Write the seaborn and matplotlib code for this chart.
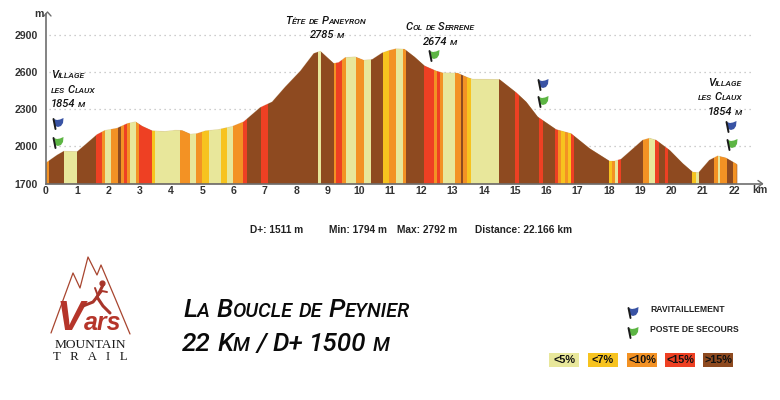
import matplotlib
matplotlib.use('Agg')
import matplotlib.pyplot as plt
import seaborn as sns
from matplotlib.patches import Rectangle, Polygon

# elevation profile
km = [0, 0.35, 0.57, 1.0, 1.3, 1.63, 1.88, 2.27, 2.6, 2.86, 3.07, 3.4, 3.8, 4.14, 4.35, 4.62, 4.83,
      5.1, 5.52, 5.95, 6.32, 6.85, 7.23, 7.65, 8.13, 8.56, 8.77, 8.99, 9.2, 9.36, 9.57, 9.89, 10.16,
      10.43, 10.75, 10.98, 11.19, 11.46, 11.78, 12.1, 12.47, 12.68, 13.16, 13.48, 13.64, 14.5, 15.03,
      15.35, 15.72, 16.31, 16.79, 17.38, 18.02, 18.18, 18.39, 19.08, 19.3, 19.51, 19.94, 20.36, 20.68,
      20.87, 21.21, 21.48, 21.74, 22.09]
elev = [1869, 1931, 1963, 1960, 2025, 2097, 2130, 2148, 2186, 2200, 2165, 2127, 2122, 2132, 2130, 2100, 2105,
        2127, 2138, 2162, 2200, 2315, 2360, 2481, 2608, 2750, 2769, 2718, 2670, 2678, 2718, 2723, 2696,
        2702, 2755, 2775, 2788, 2785, 2723, 2651, 2610, 2594, 2592, 2557, 2543, 2541, 2436,
        2361, 2240, 2138, 2105, 1985, 1883, 1883, 1899, 2052, 2068, 2052, 1971, 1864, 1794,
        1791, 1890, 1925, 1909, 1858]

# gradient bands: end of each band in km and its class
band_end = [0.08, 0.57, 1.0, 1.6, 1.8, 1.88, 2.09, 2.3, 2.39, 2.48, 2.6, 2.7, 2.88, 2.99, 3.39, 3.5, 4.3, 4.6,
            4.8, 5.0, 5.2, 5.6, 5.8, 5.99, 6.3, 6.42, 6.86, 7.1, 8.69, 8.8, 9.2, 9.29, 9.47, 9.6, 9.9, 10.18,
            10.4, 10.77, 10.98, 11.19, 11.41, 11.5, 12.1, 12.4, 12.5, 12.6, 12.7, 13.08, 13.27, 13.35, 13.46,
            13.6, 14.5, 15.0, 15.13, 15.75, 15.9, 16.28, 16.38, 16.47, 16.6, 16.68, 16.79, 16.9, 18.0, 18.1,
            18.2, 18.3, 18.4, 19.08, 19.27, 19.47, 19.6, 19.78, 19.9, 20.66, 20.79, 20.87, 21.37, 21.48, 21.57,
            21.77, 21.96, 22.09]
band_class = ['o', 'b', 'p', 'b', 'r', 'o', 'p', 'o', 'b', 'o', 'r', 'o', 'p', 'o', 'r', 'y', 'p', 'o',
              'p', 'o', 'y', 'p', 'y', 'p', 'o', 'r', 'b', 'r', 'b', 'p', 'b', 'o', 'r', 'o', 'p', 'o',
              'p', 'b', 'y', 'o', 'p', 'o', 'b', 'r', 'o', 'r', 'o', 'p', 'o', 'b', 'o',
              'y', 'p', 'b', 'r', 'b', 'r', 'b', 'r', 'o', 'y', 'o', 'y', 'r', 'b', 'y',
              'o', 'p', 'r', 'b', 'o', 'p', 'r', 'b', 'r', 'b', 'y', 'p', 'b', 'o', 'p',
              'o', 'b', 'o']
class_color = {'p': '#E8E79B', 'y': '#F7C31F', 'o': '#F39224', 'r': '#EE4023', 'b': '#8E4A20'}

y_ticks = [1700, 2000, 2300, 2600, 2900]
x_ticks = list(range(0, 23))

legend_labels = ['<5%', '<7%', '<10%', '<15%', '>15%']
legend_classes = ['p', 'y', 'o', 'r', 'b']
legend_left = [549, 588, 627, 665, 703]

# flags: left edge, top edge in image pixels
blue_flags = [(52, 118), (537, 79), (725, 121), (627, 307)]
green_flags = [(52, 137), (428, 50), (537, 96), (726, 139), (627, 327)]

sns.set_theme(style='white')
plt.rcParams['font.family'] = ['Liberation Sans', 'DejaVu Sans']

W, H = 780, 400
fig = plt.figure(figsize=(W / 100, H / 100), dpi=100)

# chart area, placed so the axes land on the same pixels as the reference
x0, x1, y0, y1 = 46, 762, 183.7, 14
ax = fig.add_axes([x0 / W, 1 - y0 / H, (x1 - x0) / W, (y0 - y1) / H])
ax.set_xlim(0, (x1 - x0) / 31.27)
ax.set_ylim(1700, 1700 + (y0 - y1) / 37.23 * 300)

for t in y_ticks[1:]:
    ax.plot([0.1, 22.6], [t, t], color='#bdbdbd', lw=0.9, ls=(0, (1, 3)), zorder=1)

area = ax.fill_between(km, elev, 1700, color=class_color['b'], lw=0, zorder=2)
outline = area.get_paths()[0]
start = 0
for end, c in zip(band_end, band_class):
    span = ax.axvspan(start, end, color=class_color[c], lw=0, zorder=3)
    span.set_clip_path(outline, ax.transData)
    start = end
sns.lineplot(x=km, y=elev, ax=ax, color='#c9a878', lw=0.4, alpha=0.3, zorder=4, errorbar=None, sort=False)

ax.set_xticks(x_ticks)
ax.set_yticks(y_ticks)
ax.tick_params(length=0, pad=2, labelsize=7.6, labelcolor='#333333')
for lab in ax.get_xticklabels() + ax.get_yticklabels():
    lab.set_fontweight('bold')
ax.tick_params(axis='y', pad=6)
ax.grid(False)
for s in ['top', 'right']:
    ax.spines[s].set_visible(False)
for s in ['left', 'bottom']:
    ax.spines[s].set_color('#6e6e6e')
    ax.spines[s].set_linewidth(1.2)
    ax.spines[s].set_zorder(5)

# page layer in image pixels for the labels, flags and logo
page = fig.add_axes([0, 0, 1, 1], zorder=10)
page.set_xlim(0, W)
page.set_ylim(H, 0)
page.axis('off')
page.patch.set_alpha(0)


def small_caps(text, x, y, size, ha='left', color='#111111', family='Roboto', weight='medium'):
    # capitals at full size, lower case drawn as smaller capitals, word by word
    rend = fig.canvas.get_renderer()
    gap = size * 1.39 * 0.24
    items, total = [], 0
    for word in text.split(' '):
        runs = []
        for ch in word:
            low = ch.islower()
            if runs and runs[-1][1] == low:
                runs[-1][0] += ch
            else:
                runs.append([ch, low])
        for s, low in runs:
            t = page.text(x, y, s.upper(), fontsize=size * 0.76 if low else size, style='italic',
                          family=family, color=color, va='baseline', fontweight=weight)
            w = t.get_window_extent(rend).width
            items.append((t, w))
            total += w
        items.append((None, gap))
        total += gap
    total -= gap
    cur = x - total / 2 if ha == 'center' else (x - total if ha == 'right' else x)
    for t, w in items:
        if t is not None:
            t.set_x(cur)
        cur += w


def flag(left, top, color):
    page.plot([left + 1.5, left + 3.5], [top + 1, top + 11], color='#1c1c1c', lw=1.4, zorder=3)
    pts = [(left + 1.5, top + 1), (left + 5, top + 2), (left + 8, top + 1.5), (left + 11.5, top),
           (left + 11, top + 5), (left + 9, top + 8), (left + 6, top + 9), (left + 3, top + 8)]
    page.add_patch(Polygon(pts, closed=True, fc=color, ec='none', zorder=2))


for left, top in blue_flags:
    flag(left, top, '#3953A4')
for left, top in green_flags:
    flag(left, top, '#5DB544')

# axis arrows and units
page.plot([44, 47.5, 51], [16, 12, 16], color='#6e6e6e', lw=1)
page.text(39, 14, 'm', fontsize=7.6, fontweight='bold', color='#333333', ha='center', va='center')
page.plot([758, 762.5, 758], [180.5, 183.7, 187], color='#6e6e6e', lw=1)
page.text(760, 190, 'km', fontsize=7.6, fontweight='bold', color='#333333', ha='center', va='center')

# place labels
label_size = 8
small_caps('Village', 51, 78, label_size)
small_caps('les Claux', 51, 93, label_size)
small_caps('1854 m', 51, 107, label_size)
small_caps('Tête de Paneyron', 326, 24, label_size, ha='center')
small_caps('2785 m', 327, 38, label_size, ha='center')
small_caps('Col de Serrene', 440, 30, label_size, ha='center')
small_caps('2674 m', 440, 45, label_size, ha='center')
small_caps('Village', 742, 86, label_size, ha='right')
small_caps('les Claux', 742, 100, label_size, ha='right')
small_caps('1854 m', 742, 115, label_size, ha='right')

# stats line
stat_size = 7.3
page.text(250, 230, 'D+: 1511 m', fontsize=stat_size, fontweight='bold', color='#222222', va='center')
page.text(329, 230, 'Min: 1794 m', fontsize=stat_size, fontweight='bold', color='#222222', va='center')
page.text(397, 230, 'Max: 2792 m', fontsize=stat_size, fontweight='bold', color='#222222', va='center')
page.text(475, 230, 'Distance: 22.166 km', fontsize=stat_size, fontweight='bold', color='#222222', va='center')

# title
small_caps('La Boucle de Peynier', 183, 317, 19, color='#0a0a0a')
small_caps('22 Km / D+ 1500 m', 182, 351, 18.8, color='#0a0a0a')

# legend
page.text(650, 309, 'RAVITAILLEMENT', fontsize=6.2, fontweight='bold', color='#222222', va='center')
page.text(650, 329.5, 'POSTE DE SECOURS', fontsize=6.2, fontweight='bold', color='#222222', va='center')
for left, lab, c in zip(legend_left, legend_labels, legend_classes):
    page.add_patch(Rectangle((left, 353), 30, 13.5, fc=class_color[c], ec='none'))
    page.text(left + 15, 359.8, lab, fontsize=7.8, fontweight='bold', color='#111111', ha='center', va='center')

# logo
logo_x = [51, 73, 80, 88, 97, 101, 115, 130]
logo_y = [333, 273, 288, 257, 275, 265, 298, 334]
page.plot(logo_x, logo_y, color='#A8452F', lw=0.9, zorder=1)
page.text(57, 330, 'V', fontsize=30, fontweight='bold', style='italic', color='#B5352A',
          ha='left', va='baseline', zorder=2)
page.text(84, 330, 'ars', fontsize=18, fontweight='bold', style='italic', color='#B5352A',
          ha='left', va='baseline', zorder=2)
page.plot([83, 93, 97, 103], [306, 302, 297, 285], color='#A8352A', lw=2.2, zorder=3)
page.plot([97, 103, 110], [297, 306, 313], color='#A8352A', lw=2.2, zorder=3)
page.plot([95, 98, 102, 107], [288, 296, 291, 292], color='#A8352A', lw=1.4, zorder=3)
page.scatter([102], [283], s=12, color='#A8352A', zorder=3)
page.text(90.5, 345, 'MOUNTAIN', fontsize=9.6, family='Liberation Serif', color='#1a1a1a', ha='center', va='center')
page.text(90.5, 356.5, 'T   R   A   I   L', fontsize=9.2, family='Liberation Serif', color='#1a1a1a', ha='center', va='center')

fig.savefig('out.png', dpi=100, facecolor='white')
